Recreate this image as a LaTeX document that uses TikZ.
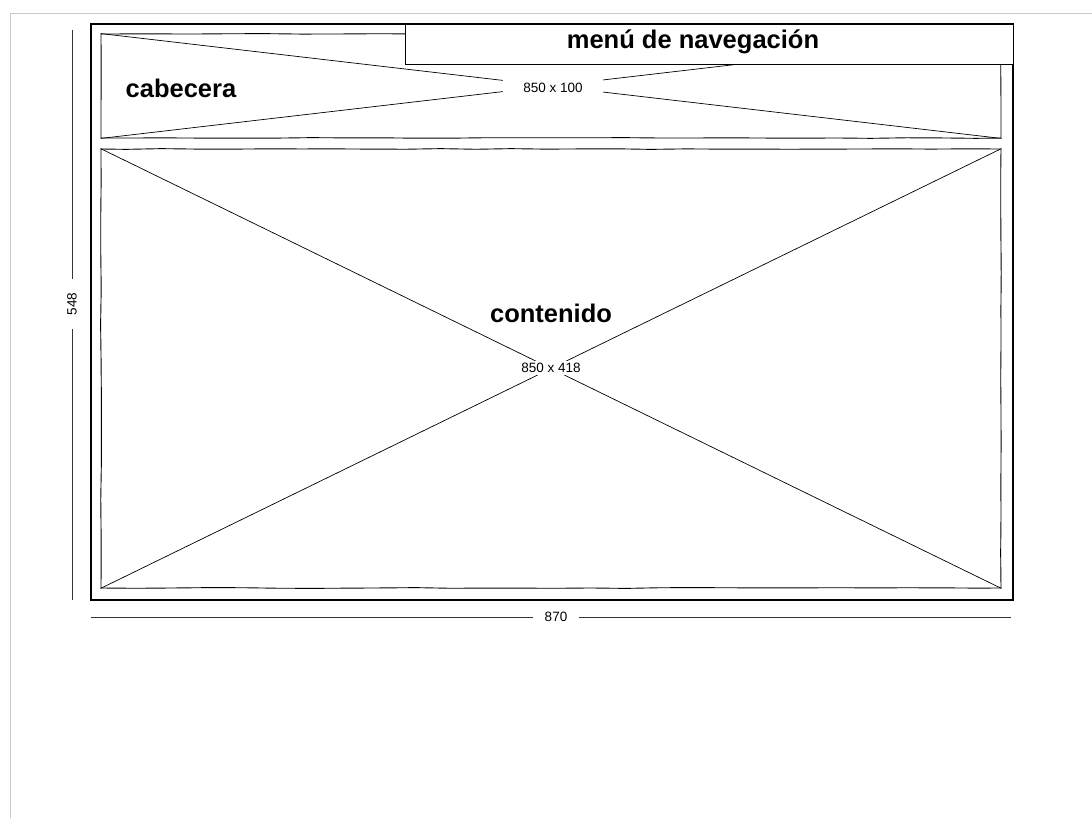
\documentclass[tikz,border=0pt]{standalone}
\usepackage{fontspec}
\setmainfont{Liberation Sans}
\usetikzlibrary{positioning,decorations.pathmorphing}
\definecolor{bordecolor}{RGB}{200, 200, 200}

\begin{document}
\begin{tikzpicture}[
    x=1pt, y=-1pt,
    sketch/.style={decorate, decoration={random steps, segment length=35pt, amplitude=0.4pt}},
    marco/.style={rectangle, draw, line width=2pt, inner sep=0pt},
    caja/.style={rectangle, draw, line width=0.9pt, inner sep=0pt, sketch},
    cruz/.style={line width=0.7pt},
    titulo/.style={font=\bfseries\fontsize{25.5}{29}\selectfont, inner sep=1pt},
    medida/.style={font=\fontsize{13.5}{15}\selectfont, fill=white, inner sep=3pt},
    cota/.style={line width=0.9pt, black!80}
]
    \useasboundingbox (0,0) rectangle (1092,818);

    % page border
    \coordinate (pag1) at (10,818);
    \coordinate (pag2) at (10,13);
    \coordinate (pag3) at (1092,13);
    \draw[bordecolor, line width=0.8pt] (pag1) -- (pag2) -- (pag3);

    % outer frame
    \node[marco, minimum width=922, minimum height=576] (pagina) at (552,312) {};

    % header
    \node[caja, minimum width=900, minimum height=104] (cabecera) at (551,86) {};
    \draw[cruz] (cabecera.north west) -- (cabecera.south east);
    \draw[cruz] (cabecera.south west) -- (cabecera.north east);

    % content
    \node[caja, minimum width=900, minimum height=439] (contenido) at (551,368.5) {};
    \draw[cruz] (contenido.north west) -- (contenido.south east);
    \draw[cruz] (contenido.south west) -- (contenido.north east);

    % navigation menu
    \node[rectangle, draw, line width=0.9pt, fill=white, minimum width=608, minimum height=40, inner sep=0pt] (menu) at (709,44) {};
    \node[titulo] (menutxt) at (693,42) {menú de navegación};

    % labels
    \node[titulo] (cabtxt) at (181,88) {cabecera};
    \node[medida, inner xsep=20pt, inner ysep=4pt] (cabdim) at (553,88) {850 x 100};
    \node[titulo] (conttxt) at (551,313) {contenido};
    \node[medida, inner sep=2pt] (contdim) at (551,368) {850 x 418};

    % dimensions
    \coordinate (alto1) at (72,30);
    \coordinate (alto2) at (72,600);
    \draw[cota] (alto1) -- (alto2);
    \node[medida, rotate=90, inner xsep=14pt] (alto) at (72,304) {548};

    \coordinate (ancho1) at (91,617);
    \coordinate (ancho2) at (1011,617);
    \draw[cota] (ancho1) -- (ancho2);
    \node[medida, inner xsep=12pt] (ancho) at (556,617) {870};
\end{tikzpicture}
\end{document}
